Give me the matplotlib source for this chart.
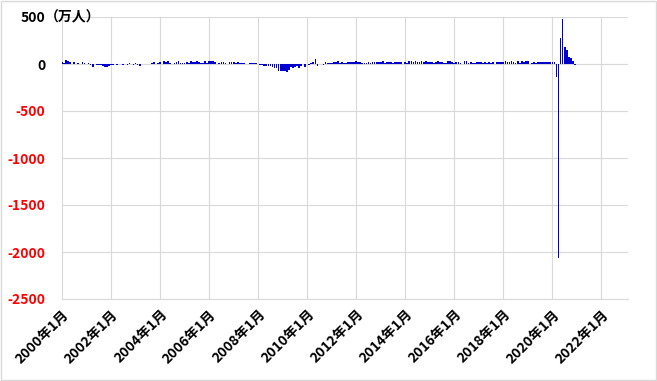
import matplotlib
matplotlib.use("Agg")
import matplotlib.pyplot as plt
from matplotlib.patches import Rectangle

plt.rcParams['font.family'] = ['Noto Sans CJK JP', 'DejaVu Sans']

# Monthly change in nonfarm payrolls (thousand persons), 2000-01 .. 2020-12
y2000 = [233, 117, 466, 283, 221, -46, 166, -8, 125, -3, 212, 140]
y2001 = [-14, 67, -54, -285, -42, -129, -123, -159, -245, -332, -288, -172]
y2002 = [-133, -72, -27, -84, -8, 43, -100, 2, -55, 120, 8, -153]
y2003 = [84, -156, -212, -49, -5, 5, 26, -40, 104, 191, 13, 115]
y2004 = [160, 43, 338, 250, 310, 81, 46, 120, 163, 349, 64, 134]
y2005 = [133, 239, 134, 363, 175, 243, 369, 195, 63, 84, 337, 159]
y2006 = [277, 315, 281, 182, 23, 77, 207, 184, 157, 2, 210, 171]
y2007 = [238, 88, 188, 78, 144, 71, -33, -16, 85, 82, 118, 97]
y2008 = [19, -86, -78, -210, -185, -165, -209, -266, -452, -473, -769, -695]
y2009 = [-791, -703, -823, -686, -351, -470, -329, -212, -449, -189, -1, -274]
y2010 = [14, -59, 153, 229, 521, -167, -51, -25, -68, 237, 137, 71]
y2011 = [70, 168, 212, 322, 102, 217, 106, 122, 221, 183, 164, 196]
y2012 = [360, 226, 243, 96, 110, 88, 160, 150, 161, 225, 203, 214]
y2013 = [196, 311, 135, 192, 218, 176, 139, 236, 258, 212, 258, 47]
y2014 = [190, 151, 272, 329, 246, 304, 202, 230, 280, 227, 312, 255]
y2015 = [234, 238, 86, 262, 344, 206, 254, 157, 100, 321, 272, 239]
y2016 = [126, 237, 225, 153, 40, 297, 291, 135, 265, 124, 155, 216]
y2017 = [259, 195, 74, 190, 145, 210, 138, 208, 14, 260, 253, 169]
y2018 = [170, 325, 176, 161, 267, 226, 149, 282, 108, 277, 164, 269]
y2019 = [268, 1, 147, 210, 85, 182, 194, 207, 208, 185, 261, 184]
y2020 = [214, 251, -1373, -20679, 2725, 4781, 1761, 1493, 711, 610, 336, -140]

years = [y2000, y2001, y2002, y2003, y2004, y2005, y2006, y2007, y2008, y2009,
         y2010, y2011, y2012, y2013, y2014, y2015, y2016, y2017, y2018, y2019, y2020]
values = [v / 10 for yr in years for v in yr]  # 万人

x_labels = ["2000年1月", "2002年1月", "2004年1月", "2006年1月", "2008年1月", "2010年1月",
            "2012年1月", "2014年1月", "2016年1月", "2018年1月", "2020年1月", "2022年1月"]
y_ticks = [500, 0, -500, -1000, -1500, -2000, -2500]

fig = plt.figure(figsize=(6.57, 3.81), dpi=100)
ax = fig.add_axes([62/657, 1-299/381, (628-62)/657, (299-17)/381])

xs = list(range(len(values)))
ax.bar(xs, values, width=0.85, color='#0000CC', edgecolor='none', zorder=3)

ax.set_xlim(0, 277)
ax.set_ylim(-2500, 500)
ax.set_yticks(y_ticks)
ax.set_yticklabels([str(t) for t in y_ticks], fontsize=10, fontweight='bold')
for lab, t in zip(ax.get_yticklabels(), y_ticks):
    lab.set_color('red' if t < 0 else 'black')
ax.set_xticks([i * 24 for i in range(len(x_labels))])
ax.set_xticklabels(x_labels, rotation=45, ha='right', rotation_mode='anchor',
                   fontsize=10, fontweight='bold')
ax.tick_params(axis='x', length=0, pad=6)
ax.tick_params(axis='y', length=0, pad=12)
ax.grid(True, color='#D9D9D9', linewidth=0.8, zorder=0)
for s in ['top', 'right', 'left']:
    ax.spines[s].set_visible(False)
ax.spines['bottom'].set_color('#D9D9D9')
ax.spines['bottom'].set_zorder(1)

fig.text(45/657, 1-17/381, "（万人）", fontsize=10, fontweight='bold', va='center', ha='left')

fig.patches.append(Rectangle((1/657, 1/381), 655/657, 379/381, transform=fig.transFigure,
                             fill=False, edgecolor='#D9D9D9', linewidth=1))

fig.savefig("out.png", dpi=100)
